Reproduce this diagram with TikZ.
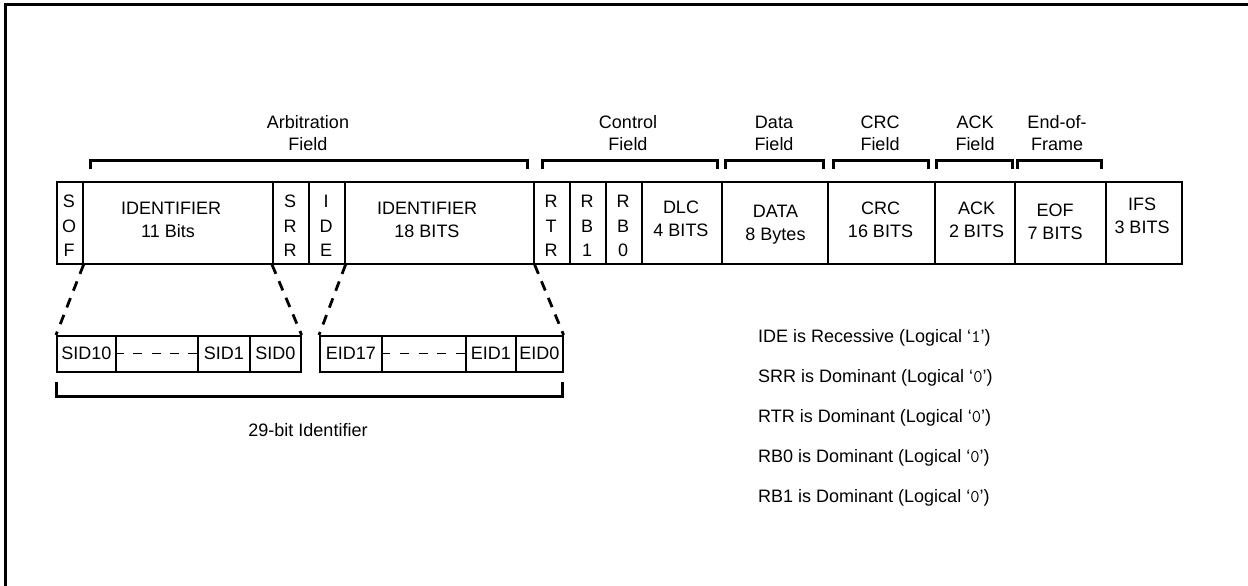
\documentclass[tikz,border=0pt]{standalone}
\usepackage{fontspec}
\setmainfont{Liberation Sans}
\newcommand\diagfont{\fontsize{18}{23}\selectfont}
\newcommand\vertfont{\fontsize{18}{24.5}\selectfont}
\newcommand\lbfont{\fontsize{18}{22}\selectfont}
\newcommand\lgc[1]{(Logical ‘{\ttfamily #1}’)}
\begin{document}
\begin{tikzpicture}[x=1pt,y=-1pt,
  cell/.style={draw, line width=1.6pt, minimum height=82pt, inner sep=0pt, anchor=north west},
  ctext/.style={inner sep=0pt, align=center, font=\diagfont},
  vtext/.style={inner sep=0pt, align=center, font=\vertfont},
  subcell/.style={draw, line width=1.6pt, minimum height=36pt, inner sep=0pt, anchor=north west, font=\diagfont},
  bracket/.style={line width=3pt},
  slant/.style={line width=2.8pt, dash pattern=on 10pt off 8pt},
  middash/.style={line width=1.2pt},
  flabel/.style={anchor=south, inner sep=0pt, align=center, font=\lbfont},
  note/.style={anchor=base west, inner sep=0pt, font=\diagfont}
]
\useasboundingbox (0,0) rectangle (1248,586);
% frame border (cropped)
\draw[line width=3pt] (5,586) -- (5,5) -- (1248,5);

% main frame cells
\node[cell, minimum width=26pt]  (sof)  at (56,181)   {};
\node[cell, minimum width=190pt] (id11) at (82,181)   {};
\node[cell, minimum width=36pt]  (srr)  at (272,181)  {};
\node[cell, minimum width=36pt]  (ide)  at (308,181)  {};
\node[cell, minimum width=189pt] (id18) at (344,181)  {};
\node[cell, minimum width=36pt]  (rtr)  at (533,181)  {};
\node[cell, minimum width=36pt]  (rb1)  at (569,181)  {};
\node[cell, minimum width=36pt]  (rb0)  at (605,181)  {};
\node[cell, minimum width=80pt]  (dlc)  at (641,181)  {};
\node[cell, minimum width=106pt] (data) at (721,181)  {};
\node[cell, minimum width=107pt] (crc)  at (827,181)  {};
\node[cell, minimum width=80pt]  (ack)  at (934,181)  {};
\node[cell, minimum width=91pt]  (eof)  at (1014,181) {};
\node[cell, minimum width=76pt]  (ifs)  at (1105,181) {};

% cell texts
\node[vtext] (tsof)  at (69,226)   {S\\O\\F};
\node[ctext] (tid11) at (171,220)  {IDENTIFIER\\\hspace*{-6pt}11 Bits};
\node[vtext] (tsrr)  at (290,226)  {S\\R\\R};
\node[vtext] (tide)  at (326,226)  {I\\D\\E};
\node[ctext] (tid18) at (427,220)  {IDENTIFIER\\18 BITS};
\node[vtext] (trtr)  at (551,226)  {R\\T\\R};
\node[vtext] (trb1)  at (587,226)  {R\\B\\1};
\node[vtext] (trb0)  at (623,226)  {R\\B\\0};
\node[ctext] (tdlc)  at (681,218.5){DLC\\4 BITS};
\node[ctext] (tdata) at (775.5,225){DATA\\8 Bytes};
\node[ctext] (tcrc)  at (880.5,220){CRC\\16 BITS};
\node[ctext] (tack)  at (976.5,220){ACK\\2 BITS};
\node[ctext] (teof)  at (1055,221.5){EOF\\7 BITS};
\node[ctext] (tifs)  at (1142,216) {IFS\\3 BITS};

% field brackets
\draw[bracket] (90,169) -- (90,160) -- (527,160) -- (527,169);
\draw[bracket] (542,169) -- (542,160) -- (717,160) -- (717,169);
\draw[bracket] (725,169) -- (725,160) -- (823,160) -- (823,169);
\draw[bracket] (833,169) -- (833,160) -- (928,160) -- (928,169);
\draw[bracket] (936,169) -- (936,160) -- (1012,160) -- (1012,169);
\draw[bracket] (1017,169) -- (1017,160) -- (1101,160) -- (1101,169);

% field labels
\node[flabel] (larb)  at (308,151)  {Arbitration\\Field};
\node[flabel] (lctl)  at (628,151)  {Control\\Field};
\node[flabel] (ldata) at (774,151)  {Data\\Field};
\node[flabel] (lcrc)  at (880,151)  {CRC\\Field};
\node[flabel] (lack)  at (975,151)  {ACK\\Field};
\node[flabel] (leof)  at (1057,151) {End-of-\\Frame};

% expanded identifier cells
\node[subcell, minimum width=59pt] (sid10) at (56,335)  {SID10};
\node[subcell, minimum width=82pt] (sidd)  at (115,335) {};
\node[subcell, minimum width=52pt] (sid1)  at (197,335) {SID1};
\node[subcell, minimum width=51pt] (sid0)  at (249,335) {SID0};
\node[subcell, minimum width=62pt] (eid17) at (319,335) {EID17};
\node[subcell, minimum width=84pt] (eidd)  at (381,335) {};
\node[subcell, minimum width=50pt] (eid1)  at (465,335) {EID1};
\node[subcell, minimum width=47pt] (eid0)  at (515,335) {EID0};

\draw[middash, dash pattern=on 9pt off 9.25pt] (sidd.west) -- (sidd.east);
\draw[middash, dash pattern=on 9pt off 9.75pt] (eidd.west) -- (eidd.east);

% expansion connectors
\draw[slant] (sof.south east)  -- (sid10.north west);
\draw[slant] (srr.south west)  -- (sid0.north east);
\draw[slant] (ide.south east)  -- (eid17.north west);
\draw[slant] (id18.south east) -- (eid0.north east);

% 29-bit bracket
\draw[bracket] (56,382) -- (56,396) -- (562,396) -- (562,382);
\node[font=\diagfont, inner sep=0pt] (l29) at (308,430) {29-bit Identifier};

% notes
\node[note] (n1) at (758,342) {IDE is Recessive \lgc{1}};
\node[note] (n2) at (758,382) {SRR is Dominant \lgc{0}};
\node[note] (n3) at (758,422) {RTR is Dominant \lgc{0}};
\node[note] (n4) at (758,462) {RB0 is Dominant \lgc{0}};
\node[note] (n5) at (758,502) {RB1 is Dominant \lgc{0}};
\end{tikzpicture}
\end{document}
